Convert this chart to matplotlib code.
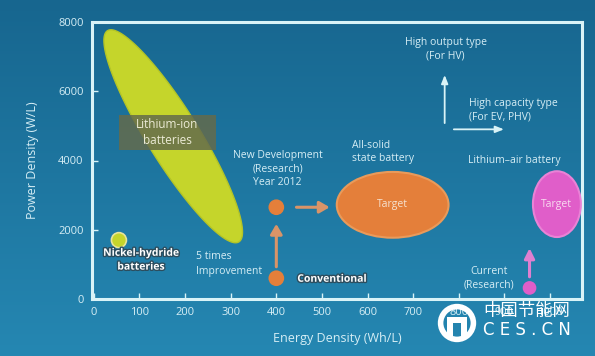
import numpy as np
import matplotlib
matplotlib.use("Agg")
import matplotlib.pyplot as plt
import matplotlib.patheffects as pe
from matplotlib.patches import Ellipse, Circle, Polygon, Rectangle

plt.rcParams['font.family'] = ['Open Sans', 'Noto Sans CJK SC', 'DejaVu Sans']

# axis ticks
x_ticks = [0, 100, 200, 300, 400, 500, 600, 700, 800, 900, 1000]
y_ticks = [0, 2000, 4000, 6000, 8000]

# lithium-ion band: two end points (energy, power) and width in px
liion_ends = [(30, 7750), (318, 1650)]
liion_width_px = 52

# circles: (energy, power)
nimh_pt = (55, 1700)
conv_pt = (400, 600)
newdev_pt = (400, 2650)
air_pt = (955, 320)

# target ellipses: centre, width, height (data units)
solid_target = (655, 2720, 245, 1900)
air_target = (1015, 2740, 105, 1900)

bg_top = '#17668f'
bg_bot = '#2587b2'
line_col = '#d9f3f7'
txt_col = '#d6eef5'
lime = '#c5d52b'
orange = '#e47f3a'
pink = '#e05ec9'

W, H = 595, 356
fig = plt.figure(figsize=(W / 100, H / 100), dpi=100)

# background gradient
bg = fig.add_axes([0, 0, 1, 1], zorder=-5)
grad = np.linspace(0, 1, 256).reshape(-1, 1)
cmap = matplotlib.colors.LinearSegmentedColormap.from_list('bg', [bg_top, bg_bot])
bg.imshow(grad, aspect='auto', cmap=cmap, extent=[0, 1, 0, 1], origin='upper')
bg.axis('off')

left, right, bottom, top = 92 / W, 582 / W, (H - 299) / H, (H - 22) / H
ax = fig.add_axes([left, bottom, right - left, top - bottom])
ax.set_facecolor('none')
xlim = (-4, 1070)
ylim = (0, 8000)
ax.set_xlim(*xlim)
ax.set_ylim(*ylim)
for s in ax.spines.values():
    s.set_color(line_col)
    s.set_linewidth(2.2)
ax.set_xticks(x_ticks)
ax.set_yticks(y_ticks)
ax.tick_params(direction='in', length=4, width=1, colors=line_col,
               labelcolor=txt_col, labelsize=8, pad=6)
ax.set_xlabel('Energy Density (Wh/L)', color=txt_col, fontsize=9, labelpad=10)
ax.set_ylabel('Power Density (W/L)', color=txt_col, fontsize=9, labelpad=14)

# px per data unit
sx = (right - left) * W / (xlim[1] - xlim[0])
sy = (top - bottom) * H / (ylim[1] - ylim[0])

# rotated lithium-ion ellipse built in pixel space
p1 = np.array([liion_ends[0][0] * sx, liion_ends[0][1] * sy])
p2 = np.array([liion_ends[1][0] * sx, liion_ends[1][1] * sy])
c = (p1 + p2) / 2
maj = (p2 - p1) / 2
mn = np.array([-maj[1], maj[0]]) / np.linalg.norm(maj) * liion_width_px / 2
t = np.linspace(0, 2 * np.pi, 200)
pts = c + np.outer(np.cos(t), maj) + np.outer(np.sin(t), mn)
pts[:, 0] /= sx
pts[:, 1] /= sy
ax.add_patch(Polygon(pts, closed=True, fc=lime, ec='#b4c426', lw=1, zorder=2))

# label box over the band
ax.add_patch(Rectangle((55, 4300), 213, 1010, fc='#646b4c', ec='none', alpha=0.85, zorder=3))
ax.text(161, 4810, 'Lithium-ion\nbatteries', ha='center', va='center', fontsize=8.5,
        color='#ecebd6', linespacing=1.35, zorder=4)

def dot(pt, col, r_px=7.5):
    ax.add_patch(Ellipse(pt, 2 * r_px / sx, 2 * r_px / sy, fc=col,
                         ec='#e8e49a' if col == lime else col, lw=1.2, zorder=3))

dot(nimh_pt, lime)
dot(conv_pt, orange, 7)
dot(newdev_pt, orange, 7)
dot(air_pt, pink, 6)

outline = [pe.withStroke(linewidth=2, foreground='#2c4d5e')]
ax.text(103, 1120, 'Nickel-hydride\nbatteries', ha='center', va='center', fontsize=7.5,
        color='white', fontweight='bold', linespacing=1.35, path_effects=outline)
ax.text(446, 570, 'Conventional', ha='left', va='center', fontsize=7.5,
        color='white', fontweight='bold', path_effects=outline)
ax.text(223, 1010, '5 times\nImprovement', ha='left', va='center', fontsize=7.5,
        color=txt_col, linespacing=1.4)
ax.text(403, 3760, 'New Development\n(Research)\nYear 2012', ha='center', va='center',
        fontsize=7.5, color=txt_col, linespacing=1.3)

# orange arrows
ax.annotate('', xy=(400, 2250), xytext=(400, 850),
            arrowprops=dict(arrowstyle='-|>,head_width=0.35,head_length=0.6', color='#d99468', lw=2.2))
ax.annotate('', xy=(523, 2650), xytext=(438, 2650),
            arrowprops=dict(arrowstyle='-|>,head_width=0.35,head_length=0.6', color='#d99468', lw=2.2))

# targets
cx, cy, w, h = solid_target
ax.add_patch(Ellipse((cx, cy), w, h, fc=orange, ec='#e99a5a', lw=1.5, zorder=3))
ax.text(cx, cy, 'Target', ha='center', va='center', fontsize=7.5, color='#f6e2d0', zorder=4)
ax.text(566, 4240, 'All-solid\nstate battery', ha='left', va='center', fontsize=7.5,
        color=txt_col, linespacing=1.3)

cx, cy, w, h = air_target
ax.add_patch(Ellipse((cx, cy), w, h, fc=pink, ec='#ea82d6', lw=1.5, zorder=3))
ax.text(cx, cy, 'Target', ha='center', va='center', fontsize=7.5, color='#f8dcf0', zorder=4)
ax.text(922, 4010, 'Lithium–air battery', ha='center', va='center', fontsize=7.5, color=txt_col)
ax.text(866, 600, 'Current\n(Research)', ha='center', va='center', fontsize=7.5,
        color=txt_col, linespacing=1.35)
ax.annotate('', xy=(955, 1550), xytext=(955, 560),
            arrowprops=dict(arrowstyle='-|>,head_width=0.3,head_length=0.6', color='#e07fd0', lw=2.2))

# white direction arrows
ax.annotate('', xy=(769, 6550), xytext=(769, 5000),
            arrowprops=dict(arrowstyle='-|>,head_width=0.2,head_length=0.5', color=line_col, lw=1.3))
ax.annotate('', xy=(905, 4900), xytext=(783, 4900),
            arrowprops=dict(arrowstyle='-|>,head_width=0.2,head_length=0.5', color=line_col, lw=1.3))
ax.text(771, 7200, 'High output type\n(For HV)', ha='center', va='center', fontsize=7.5,
        color=txt_col, linespacing=1.3)
ax.text(823, 5450, 'High capacity type\n(For EV, PHV)', ha='left', va='center', fontsize=7.5,
        color=txt_col, linespacing=1.3)

# watermark
wm = fig.add_axes([437 / W, (H - 343) / H, 40 / W, 40 / H])
wm.set_xlim(-1, 1)
wm.set_ylim(-1, 1)
wm.set_aspect('equal')
wm.axis('off')
wm.add_patch(Circle((0, 0), 0.82, fc='none', ec='white', lw=4))
wm.add_patch(Polygon([(-0.5, 0.3), (0.5, 0.3), (0.5, -0.75), (0.22, -0.75), (0.22, 0.02),
                      (-0.22, 0.02), (-0.22, -0.75), (-0.5, -0.75)], fc='white', ec='none'))
fig.text(527 / W, (H - 311) / H, '中国节能网', ha='center', va='center', fontsize=12.5,
         color='white', family=['Noto Sans CJK SC', 'DejaVu Sans'])
fig.text(527 / W, (H - 330) / H, 'C E S . C N', ha='center', va='center', fontsize=12,
         color='white', family=['DejaVu Sans'])

fig.savefig('out.png', dpi=100)
